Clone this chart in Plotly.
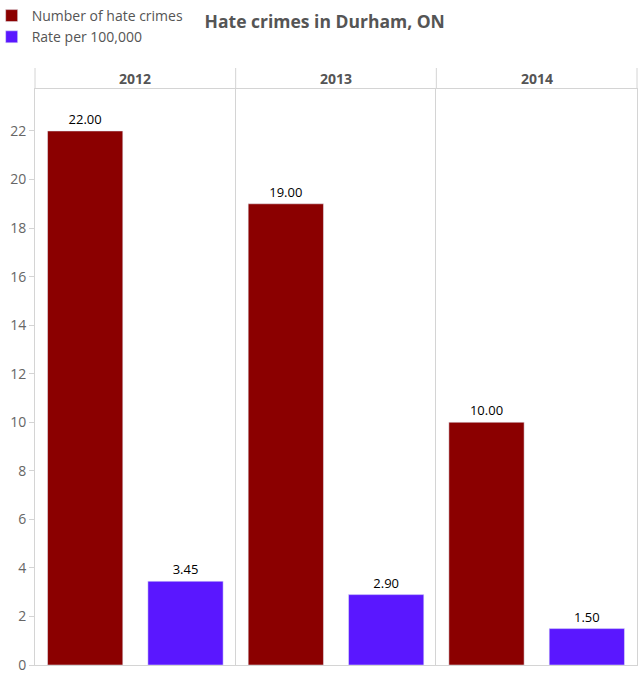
import plotly.graph_objects as go
from plotly.subplots import make_subplots

years = ['2012', '2013', '2014']
hate_crimes = [22, 19, 10]
rate_per_100k = [3.45, 2.90, 1.50]
y_ticks = [0, 2, 4, 6, 8, 10, 12, 14, 16, 18, 20, 22]

red = '#8b0000'
blue = '#5a17ff'
line_col = '#d4d4d4'
text_col = '#555555'
font_family = 'Open Sans, DejaVu Sans, sans-serif'

fig = make_subplots(rows=1, cols=3, shared_yaxes=True, horizontal_spacing=0)

for i, year in enumerate(years):
    col = i + 1
    fig.add_trace(go.Bar(x=['count'], y=[hate_crimes[i]], name='Number of hate crimes',
                         marker=dict(color=red), width=0.75, legendgroup='count',
                         showlegend=(i == 0), texttemplate='%{y:.2f}', textposition='outside',
                         cliponaxis=False, hoverinfo='y'), row=1, col=col)
    fig.add_trace(go.Bar(x=['rate'], y=[rate_per_100k[i]], name='Rate per 100,000',
                         marker=dict(color=blue), width=0.75, legendgroup='rate',
                         showlegend=(i == 0), texttemplate='%{y:.2f}', textposition='outside',
                         cliponaxis=False, hoverinfo='y'), row=1, col=col)
    fig.update_xaxes(categoryorder='array', categoryarray=['count', 'rate'], showticklabels=False,
                     showline=True, linecolor=line_col, linewidth=1, mirror=True, showgrid=False,
                     zeroline=False, row=1, col=col)

fig.update_yaxes(range=[0, 23.73], tickvals=y_ticks, showgrid=False, zeroline=False,
                 showline=True, linecolor=line_col, linewidth=1)
fig.update_yaxes(ticks='outside', ticklen=5, tickcolor=line_col,
                 tickfont=dict(size=14, color='#666666'), row=1, col=1)
fig.update_yaxes(showticklabels=False, row=1, col=2)
fig.update_yaxes(showticklabels=False, mirror=True, row=1, col=3)

plot_h = 674 - 89 - 9
head = 21 / plot_h
shapes = []
for xp in [0, 1 / 3, 2 / 3, 1]:
    shapes.append(dict(type='line', xref='paper', yref='paper', x0=xp, x1=xp, y0=1, y1=1 + head,
                       line=dict(color=line_col, width=1)))

annotations = []
for i, year in enumerate(years):
    annotations.append(dict(text='<b>' + year + '</b>', xref='paper', yref='paper',
                            x=(i + 0.5) / 3, y=1 + head / 2, showarrow=False,
                            font=dict(size=14, color=text_col), xanchor='center', yanchor='middle'))

fig.update_layout(
    width=643, height=674,
    margin=dict(l=35, r=6, t=89, b=9, autoexpand=False),
    paper_bgcolor='white', plot_bgcolor='white',
    font=dict(family=font_family, color=text_col),
    title=dict(text='<b>Hate crimes in Durham, ON</b>', x=0.505, xanchor='center', y=0.967,
               yanchor='middle', font=dict(size=17.5, color=text_col)),
    legend=dict(xref='paper', yref='container', x=-0.072, y=1.0, xanchor='left', yanchor='top',
                font=dict(size=14, color=text_col), tracegroupgap=0, itemwidth=30,
                bgcolor='rgba(0,0,0,0)'),
    bargap=0.25,
    shapes=shapes,
    annotations=annotations,
)
fig.update_traces(textfont=dict(size=13, color='black', family=font_family))

# page body margin would push the chart off the window
fig.write_html('out.html', config={'displayModeBar': False},
               post_script="document.body.style.margin='0';")
